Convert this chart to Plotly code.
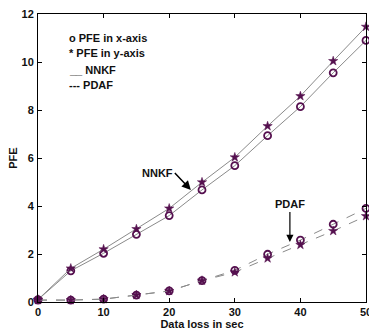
import plotly.graph_objects as go

data_loss = [0, 5, 10, 15, 20, 25, 30, 35, 40, 45, 50]
nnkf_x = [0.1, 1.30, 2.03, 2.82, 3.60, 4.67, 5.68, 6.93, 8.14, 9.55, 10.9]
nnkf_y = [0.1, 1.40, 2.20, 3.04, 3.90, 4.99, 6.03, 7.33, 8.58, 10.04, 11.47]
pdaf_x = [0.08, 0.08, 0.12, 0.29, 0.46, 0.89, 1.32, 1.99, 2.58, 3.24, 3.90]
pdaf_y = [0.08, 0.08, 0.12, 0.29, 0.46, 0.89, 1.24, 1.82, 2.38, 2.96, 3.58]
legend_lines = ["o PFE in x-axis", "* PFE in y-axis", "__ NNKF", "--- PDAF"]

line_col = "#8a8a8a"
mk_col = "#55104f"
FONT = "Liberation Sans, Arial, sans-serif"
TXT = dict(size=11, color="#111", family=FONT, weight="bold")

fig = go.Figure()

def add(y, dash, symbol):
    fig.add_trace(go.Scatter(
        x=data_loss, y=y, mode="lines",
        line=dict(color=line_col, width=1, dash=dash),
        showlegend=False, cliponaxis=False))
    if symbol == "circle-open":
        mk = dict(symbol="circle-open", size=7, color=mk_col, line=dict(width=1.8, color=mk_col))
    else:
        mk = dict(symbol="star", size=7, color=mk_col, line=dict(width=0.5, color=mk_col))
    fig.add_trace(go.Scatter(
        x=data_loss, y=y, mode="markers", marker=mk,
        showlegend=False, cliponaxis=False))

add(nnkf_x, "solid", "circle-open")
add(nnkf_y, "solid", "star")
add(pdaf_x, "dash", "circle-open")
add(pdaf_y, "dash", "star")

legend_y = [38, 53, 70, 85]
for t, py in zip(legend_lines, legend_y):
    fig.add_annotation(x=(67 - 38) / 328, y=(302 - py) / 288, xref="paper", yref="paper",
                       text=t, showarrow=False, xanchor="left", yanchor="middle",
                       font=TXT)

fig.add_annotation(x=23.3, y=4.67, ax=-16, ay=-17, text="NNKF", showarrow=True,
                   arrowhead=2, arrowsize=1.2, arrowwidth=1.5, arrowcolor="#000",
                   xanchor="right", yanchor="middle", font=TXT)
fig.add_annotation(x=38.4, y=2.5, ax=0, ay=-30, text="PDAF", showarrow=True,
                   arrowhead=2, arrowsize=1.2, arrowwidth=1.2, arrowcolor="#000",
                   yanchor="bottom", font=TXT)

axis_common = dict(showline=True, linecolor="#000", linewidth=1, mirror="ticks",
                   ticks="inside", ticklen=4, tickcolor="#000", showgrid=False,
                   zeroline=False, tickfont=TXT, ticklabeloverflow="allow",
                   automargin=False)
fig.update_xaxes(range=[0, 50], dtick=10, tick0=0,
                 title=dict(text="Data loss in sec", font=TXT, standoff=1),
                 **axis_common)
fig.update_yaxes(range=[0, 12], dtick=2, tick0=0, ticklabelstandoff=1,
                 title=dict(text="PFE", font=TXT, standoff=1),
                 **axis_common)

fig.update_layout(width=369, height=335, margin=dict(l=38, r=3, t=14, b=33),
                  plot_bgcolor="white", paper_bgcolor="white",
                  font=dict(family=FONT, size=11))

fig.write_html("out.html")
